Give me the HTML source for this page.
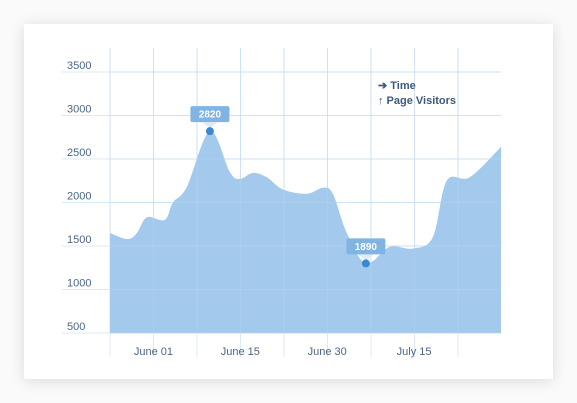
<!DOCTYPE html>
<html><head><meta charset="utf-8"><style>
html,body{margin:0;padding:0;background:#fafafa;width:577px;height:403px;overflow:hidden}
#card{position:absolute;left:24px;top:24px;width:529px;height:355px;background:#fff;box-shadow:0 2px 14px rgba(0,0,0,0.13)}
svg{position:absolute;left:0;top:0}
text{font-family:"Liberation Sans",sans-serif}
</style></head><body>
<div id="card"></div>
<svg id="chart" width="577" height="403"></svg>
<script>
const days=[0,4,6.2,8.5,12.6,14.5,17.7,23,27.6,29.9,32.9,36.1,39.8,45.3,49,51.3,54.5,58.9,64.4,69.7,74.3,77.5,82.8,90];
const visitors=[1650,1580,1650,1830,1800,2000,2180,2820,2350,2270,2340,2290,2150,2100,2170,2100,1650,1300,1490,1470,1600,2250,2290,2640];
const yTicks=[500,1000,1500,2000,2500,3000,3500];
const xLabels=["June 01","June 15","June 30","July 15"];
const xLabelDays=[10,30,50,70];
const annotations=[{day:23,value:2820,label:"2820"},{day:58.9,value:1300,label:"1890"}];
const ns="http://www.w3.org/2000/svg";
const svg=document.getElementById('chart');
const x0=110,x1=501,y0=333;
const xs=d=>x0+d*(x1-x0)/90;
const ys=v=>y0-(v-500)*43.5/500;
function mk(t,a,p){const e=document.createElementNS(ns,t);for(const k in a)e.setAttribute(k,a[k]);(p||svg).appendChild(e);return e;}
for(let i=0;i<=8;i++){const gx=x0+i*43.5;const l=mk('line',{x1:gx,x2:gx,y1:48,y2:357,stroke:'#dde9f5','stroke-width':1});

}
yTicks.forEach(v=>{const l=mk('line',{x1:62,x2:x1,y1:ys(v),y2:ys(v),stroke:'#dde9f5','stroke-width':1});


const t=mk('text',{x:67,y:ys(v)-3,'font-size':11,fill:'#4c6685'});t.textContent=v;

});
const pts=days.map((d,i)=>[xs(d),ys(visitors[i])]);
let dp=`M${x0},${y0} L${pts[0][0]},${pts[0][1]}`;
for(let i=0;i<pts.length-1;i++){const p0=pts[Math.max(0,i-1)],p1=pts[i],p2=pts[i+1],p3=pts[Math.min(pts.length-1,i+2)];
const c1=[p1[0]+(p2[0]-p0[0])/6,p1[1]+(p2[1]-p0[1])/6],c2=[p2[0]-(p3[0]-p1[0])/6,p2[1]-(p3[1]-p1[1])/6];
dp+=` C${c1[0]},${c1[1]} ${c2[0]},${c2[1]} ${p2[0]},${p2[1]}`;}
dp+=` L${x1},${y0} Z`;
const area=mk('path',{d:dp,fill:'#9ec7ec','fill-opacity':0.95});


for(let i=0;i<=8;i++){const gx=x0+i*43.5;mk('line',{x1:gx,x2:gx,y1:48,y2:y0,stroke:'#b9d6f0','stroke-width':1,'stroke-opacity':0.4});}
yTicks.forEach(v=>mk('line',{x1:x0,x2:x1,y1:ys(v),y2:ys(v),stroke:'#b9d6f0','stroke-width':1,'stroke-opacity':0.4}));
xLabels.forEach((s,i)=>{const t=mk('text',{x:xs(xLabelDays[i]),y:355,'font-size':11,fill:'#4c6685','text-anchor':'middle'});t.textContent=s;

});
annotations.forEach(a=>{const px=xs(a.day),py=ys(a.value);
const g=mk('g',{});


const by=py-25;
mk('rect',{x:px-19.5,y:by,width:39,height:16,rx:2,fill:'#7fb4e3'},g);
mk('path',{d:`M${px-8},${by+16} L${px},${py-3} L${px+8},${by+16}Z`,fill:'#cfe3f6','fill-opacity':0.7},g);
const t=mk('text',{x:px,y:by+11.5,'font-size':10,'font-weight':'bold',fill:'#fff','text-anchor':'middle'},g);t.textContent=a.label;
const c=mk('circle',{cx:px,cy:py,r:4,fill:'#3b87d1'});

});
const lg=mk('g',{});


const l1=mk('text',{x:378,y:89,'font-size':11,'font-weight':'bold',fill:'#3d5a7a'},lg);l1.textContent="➔ Time";
const l2=mk('text',{x:378,y:104,'font-size':11,'font-weight':'bold',fill:'#3d5a7a'},lg);l2.textContent="↑ Page Visitors";
</script>
</body></html>
